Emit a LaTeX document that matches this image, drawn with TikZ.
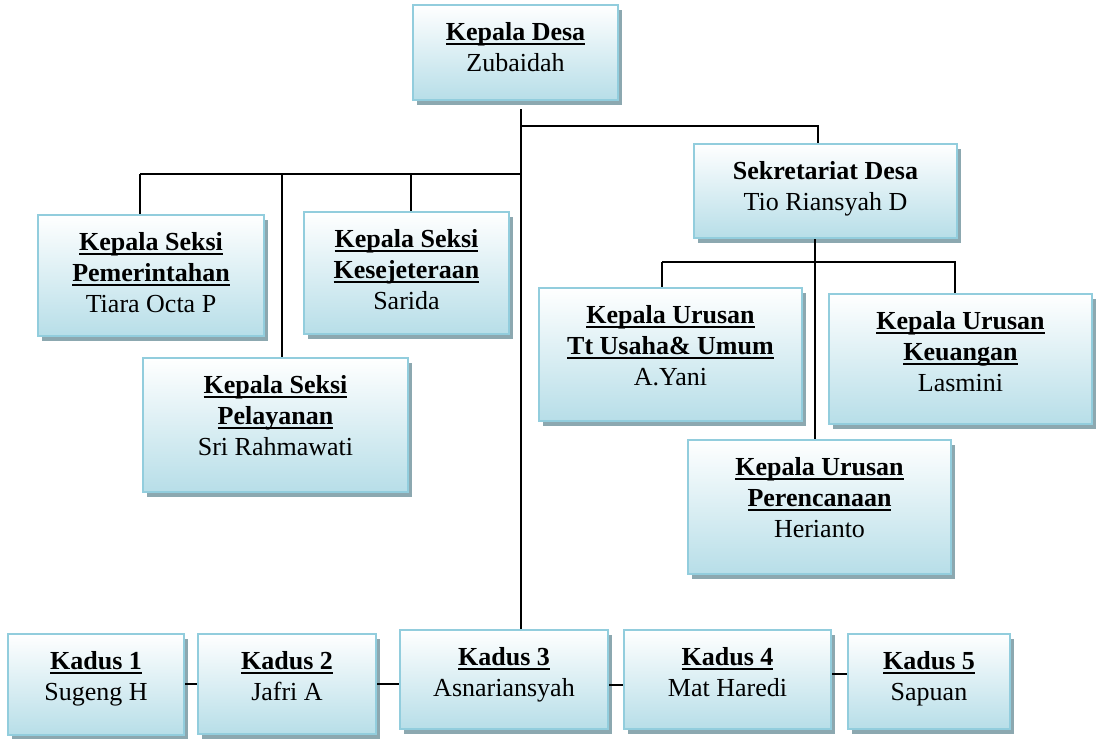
\documentclass[tikz,border=0pt]{standalone}
\usepackage{fontspec}
\setmainfont{Liberation Serif}
\usetikzlibrary{shadows}

\definecolor{unitfill}{RGB}{183,222,232}
\definecolor{unitedge}{RGB}{146,205,221}
\definecolor{unitshadow}{RGB}{140,168,176}

\newdimen\pxu \pxu=0.5pt
% box of w x h pixels, text set from the top
\newcommand{\unitbox}[3]{\parbox[c][#2\pxu][t]{#1\pxu}{\centering\vspace*{8.5pt}#3}}
% bold title with a heavy underline close to the baseline
\newcommand{\jab}[1]{\textbf{\setbox0\hbox{#1}\rlap{\rule[-2.3pt]{\wd0}{1pt}}\box0}}

\tikzset{
  unit/.style={draw=unitedge, line width=1pt, top color=white, bottom color=unitfill,
    inner sep=0pt, anchor=north west, font=\fontsize{13}{15.5}\selectfont,
    drop shadow={shadow xshift=2pt, shadow yshift=-2.5pt, fill=unitshadow, opacity=1}},
  link/.style={line width=1pt, black}
}

\begin{document}
\begin{tikzpicture}[x=0.5pt, y=-0.5pt]
    \useasboundingbox (0,0) rectangle (1100,739);

    % Top
    \node[unit] (kades) at (412,4) {\unitbox{205}{95}{\jab{Kepala Desa}\\ Zubaidah}};
    \node[unit] (sekdes) at (693,143) {\unitbox{263}{94}{\textbf{Sekretariat Desa}\\ Tio Riansyah D}};

    % Kepala seksi
    \node[unit] (pem) at (37,214) {\unitbox{226}{121}{\jab{Kepala Seksi}\\ \jab{Pemerintahan}\\ Tiara Octa P}};
    \node[unit] (kes) at (303,211) {\unitbox{205}{122}{\jab{Kepala Seksi}\\ \jab{Kesejeteraan}\\ Sarida}};
    \node[unit] (pel) at (142,357) {\unitbox{265}{134}{\jab{Kepala Seksi}\\ \jab{Pelayanan}\\ Sri Rahmawati}};

    % Kepala urusan
    \node[unit] (umum) at (538,287) {\unitbox{263}{133}{\jab{Kepala Urusan}\\ \jab{Tt Usaha\& Umum}\\ A.Yani}};
    \node[unit] (keu) at (828,293) {\unitbox{263}{130}{\jab{Kepala Urusan}\\ \jab{Keuangan}\\ Lasmini}};
    \node[unit] (ren) at (687,439) {\unitbox{263}{134}{\jab{Kepala Urusan}\\ \jab{Perencanaan}\\ Herianto}};

    % Kadus
    \node[unit] (kadus1) at (7,633) {\unitbox{176}{101}{\jab{Kadus 1}\\ Sugeng H}};
    \node[unit] (kadus2) at (197,633) {\unitbox{178}{100}{\jab{Kadus 2}\\ Jafri A}};
    \node[unit] (kadus3) at (399,629) {\unitbox{208}{99}{\jab{Kadus 3}\\ Asnariansyah}};
    \node[unit] (kadus4) at (623,629) {\unitbox{207}{99}{\jab{Kadus 4}\\ Mat Haredi}};
    \node[unit] (kadus5) at (847,633) {\unitbox{162}{95}{\jab{Kadus 5}\\ Sapuan}};

    % Lines
    \coordinate (trunk) at (521,109);
    \coordinate (seksibar) at (140,174);
    \coordinate (urbar) at (662,262);
    \draw[link] (trunk) -- (trunk |- kadus3.north);
    \draw[link] (trunk |- 0,126) -- (818,126) -- (818,0 |- sekdes.north);
    \draw[link] (seksibar) -- (trunk |- seksibar);
    \draw[link] (seksibar) -- (seksibar |- pem.north);
    \draw[link] (282,174) -- (282,0 |- pel.north);
    \draw[link] (411,174) -- (411,0 |- kes.north);
    \draw[link] (815,0 |- sekdes.south) -- (815,0 |- ren.north);
    \draw[link] (urbar) -- (955,262) -- (955,0 |- keu.north);
    \draw[link] (urbar) -- (urbar |- umum.north);
    \draw[link] (kadus1.east |- 0,684) -- (kadus2.west |- 0,684);
    \draw[link] (kadus2.east |- 0,684) -- (kadus3.west |- 0,684);
    \draw[link] (kadus3.east |- 0,685) -- (kadus4.west |- 0,685);
    \draw[link] (kadus4.east |- 0,674) -- (kadus5.west |- 0,674);
\end{tikzpicture}
\end{document}
